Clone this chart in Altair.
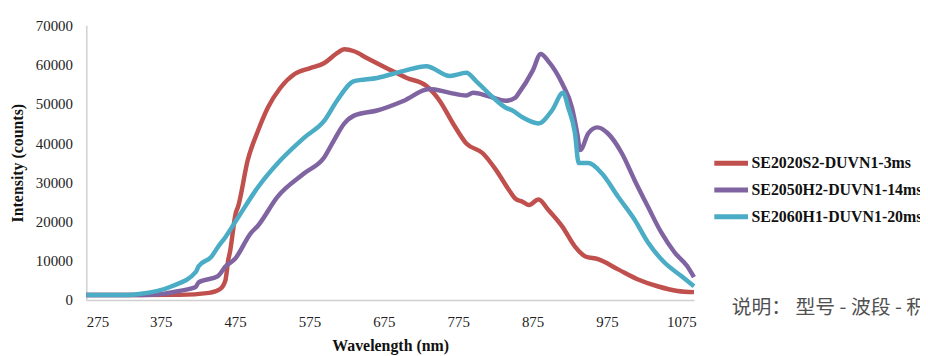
import altair as alt
import pandas as pd

# ---- data ----
names = ["SE2020S2-DUVN1-3ms", "SE2050H2-DUVN1-14ms", "SE2060H1-DUVN1-20ms"]
colors = ["#C0504D", "#8064A2", "#4BACC6"]

red_wl = [275, 330, 400, 440, 455, 462, 466, 468, 476, 479, 492, 506, 519, 536, 555, 576, 595,
          612, 622, 635, 652, 679, 706, 732, 750, 768, 786, 808, 826, 843, 852, 862, 870, 883,
          896, 915, 932, 946, 963, 990, 1016, 1043, 1070, 1092]
red_val = [1260, 1260, 1300, 1800, 2800, 5000, 10400, 12100, 22200, 23750, 35600, 43200, 49000,
           54100, 57600, 59100, 60400, 62900, 63900, 63400, 61700, 59100, 56600, 54600, 50800,
           45000, 39900, 37400, 33100, 28100, 25800, 25000, 24200, 25600, 23000, 18700, 13600,
           11100, 10400, 7800, 5300, 3500, 2300, 2000]

pur_wl = [275, 350, 376, 400, 422, 426, 452, 462, 475, 496, 506, 532, 568, 595, 608, 622, 635,
          666, 702, 736, 764, 786, 795, 815, 839, 852, 856, 875, 886, 896, 915, 928, 935, 939,
          950, 962, 976, 995, 1012, 1030, 1048, 1066, 1083, 1092]
pur_val = [1260, 1260, 1500, 2300, 3300, 4500, 6100, 8500, 10500, 17000, 19000, 26300, 32300,
           36400, 40700, 45000, 47000, 48300, 50800, 53800, 52800, 52100, 52800, 52000, 50800,
           51600, 52600, 58400, 62700, 60900, 55100, 49000, 42500, 38200, 42500, 44000, 42500,
           37400, 30600, 23800, 17200, 12100, 8600, 5800]

cya_wl = [275, 330, 346, 390, 422, 426, 443, 452, 462, 479, 506, 536, 568, 595, 612, 635, 666,
          702, 732, 764, 786, 799, 822, 839, 848, 862, 883, 901, 916, 923, 932, 937, 950, 968,
          990, 1012, 1030, 1052, 1075, 1092]
cya_val = [1260, 1260, 1500, 3500, 7100, 8600, 11000, 13500, 16000, 21000, 28800, 35600, 41400,
           45700, 50800, 55800, 56600, 58400, 59600, 57100, 57900, 55800, 51600, 49000, 48300,
           46500, 45000, 48300, 52800, 49000, 42500, 34900, 34900, 32300, 26300, 20500, 14700,
           9600, 6100, 3500]

x_ticks = [275, 375, 475, 575, 675, 775, 875, 975, 1075]
y_ticks = [0, 10000, 20000, 30000, 40000, 50000, 60000, 70000]
note_text = ["说明：  型号 - 波段 - 积分时间"]

rows = []
for name, wl, val in zip(names, [red_wl, pur_wl, cya_wl], [red_val, pur_val, cya_val]):
    for w, v in zip(wl, val):
        rows.append({"series": name, "wl": w, "val": v})
df = pd.DataFrame(rows)

serif = "Liberation Serif"

lines = alt.Chart(df).mark_line(strokeWidth=4.5, interpolate="monotone").encode(
    x=alt.X("wl:Q", scale=alt.Scale(domain=[275, 1092], nice=False, zero=False),
            axis=alt.Axis(values=x_ticks, title="Wavelength (nm)", format="d",
                          labelPadding=15, titlePadding=8)),
    y=alt.Y("val:Q", scale=alt.Scale(domain=[0, 70000], nice=False),
            axis=alt.Axis(values=y_ticks, title="Intensity (counts)", format="d",
                          labelPadding=14, titlePadding=10)),
    color=alt.Color("series:N", scale=alt.Scale(domain=names, range=colors),
                    legend=alt.Legend(title=None, orient="none", legendX=639.5, legendY=128,
                                      symbolType="M-2,0H2", symbolSize=289,
                                      symbolStrokeWidth=5, symbolFillColor="transparent",
                                      labelFont=serif,
                                      labelFontSize=16, labelFontWeight="bold",
                                      labelColor="#111", rowPadding=6, labelOffset=9.5,
                                      labelLimit=400)),
)

note = alt.Chart(pd.DataFrame({"t": note_text})).mark_text(
    align="left", baseline="middle", font="Noto Sans CJK SC", fontSize=20, color="#505050"
).encode(x=alt.value(651), y=alt.value(285), text="t:N")

chart = alt.layer(lines, note).properties(
    width=613, height=277,
    autosize=alt.AutoSizeParams(type="none"),
    padding={"left": 79, "top": 16, "right": 228, "bottom": 55},
).configure_view(stroke=None).configure_axis(
    grid=False, ticks=False, domainColor="#D0D0D0", domainWidth=1.5,
    labelFont=serif, labelFontSize=15, labelColor="#222",
    titleFont=serif, titleFontSize=16, titleFontWeight="bold", titleColor="#111",
)

chart.save("out.html", embed_options={"renderer": "svg", "actions": False})
